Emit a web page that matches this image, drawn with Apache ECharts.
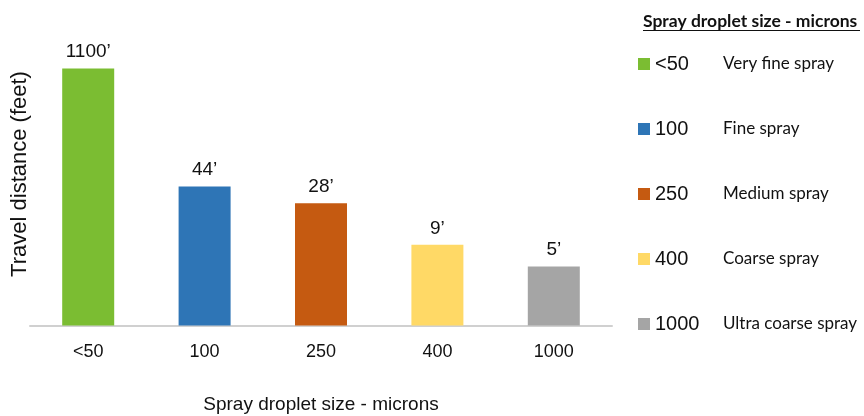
<!DOCTYPE html>
<html>
<head>
<meta charset="utf-8">
<script src="https://cdn.jsdelivr.net/npm/echarts@6/dist/echarts.min.js"></script>
<style>html,body{margin:0;padding:0;background:#fff}#c{width:864px;height:416px}</style>
</head>
<body>
<div id="c"></div>
<script>
const categories = ['<50', '100', '250', '400', '1000'];
const distances = [1100, 44, 28, 9, 5];
const descriptions = ['Very fine spray', 'Fine spray', 'Medium spray', 'Coarse spray', 'Ultra coarse spray'];
const colors = ['#7BBD32', '#2E75B6', '#C55A11', '#FFD966', '#A5A5A5'];
const xTitle = 'Spray droplet size - microns';
const yTitle = 'Travel distance (feet)';
const legendTitle = 'Spray droplet size - microns';

const chart = echarts.init(document.getElementById('c'), null, {renderer: 'canvas'});
const series = categories.map((c, i) => ({
  name: c,
  type: 'bar',
  data: distances.map((v, j) => (j === i ? v : '-')),
  barWidth: 52,
  barGap: '-100%',
  itemStyle: {color: colors[i]},
  label: {
    show: true, position: 'top', distance: 7,
    formatter: p => p.value + '\u2019',
    fontFamily: 'Liberation Sans', fontSize: 19, color: '#111'
  }
}));
chart.setOption({
  animation: false,
  grid: {left: 30, width: 582, top: 46.5, bottom: 90.5, outerBoundsMode: 'none', containLabel: false},
  xAxis: {
    type: 'category', data: categories,
    axisLine: {lineStyle: {color: '#d0d0d0', width: 2}},
    axisTick: {show: false},
    axisLabel: {fontFamily: 'Liberation Sans', fontSize: 18, color: '#111', margin: 18},
    name: xTitle, nameLocation: 'middle', nameGap: 70,
    nameTextStyle: {fontFamily: 'Liberation Sans', fontSize: 19, color: '#111'}
  },
  yAxis: {
    type: 'log', min: 1, max: 2000, logBase: 10,
    axisLine: {show: false}, axisTick: {show: false}, axisLabel: {show: false}, splitLine: {show: false}
  },
  legend: {
    orient: 'vertical', left: 638, top: 54, padding: 0,
    itemWidth: 12, itemHeight: 12, itemGap: 45, icon: 'rect',
    data: categories,
    formatter: name => '{n|' + name + '}{d|' + descriptions[categories.indexOf(name)] + '}',
    textStyle: {
      rich: {
        n: {fontFamily: 'Liberation Sans', fontSize: 20, color: '#111', width: 68},
        d: {fontFamily: 'Lato', fontSize: 17, color: '#111'}
      }
    }
  },
  graphic: [
    {type: 'text', x: 20, y: 174, rotation: Math.PI / 2,
     style: {text: yTitle, font: '22px "Liberation Sans", Arial, sans-serif', fill: '#111', align: 'center', verticalAlign: 'middle'}},
    {type: 'text', x: 643, y: 21,
     style: {text: legendTitle, fontFamily: 'Lato', fontWeight: 'bold', fontSize: 17.5, fill: '#111', verticalAlign: 'middle'}},
    {type: 'line', shape: {x1: 643, y1: 30.5, x2: 860, y2: 30.5}, style: {stroke: '#111', lineWidth: 1}}
  ],
  series: series
});
</script>
</body>
</html>
